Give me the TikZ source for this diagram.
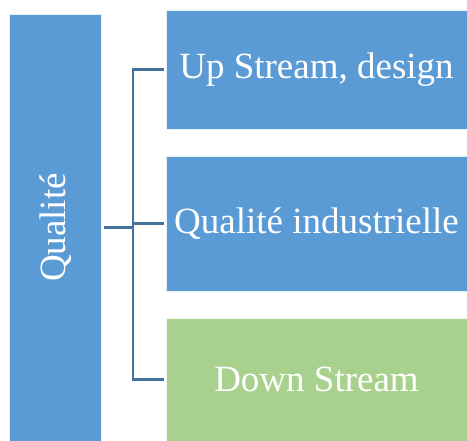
\documentclass[tikz,border=0pt]{standalone}
\usepackage{fontspec}
\setmainfont{Liberation Serif}
\definecolor{qblue}{HTML}{5B9BD5}
\definecolor{qgreen}{HTML}{A9D18E}
\definecolor{qline}{HTML}{41719C}
\tikzset{
  bloc/.style={draw=white!85!qblue,line width=0.6pt,fill=qblue,text=white,inner sep=0pt,
    font=\fontsize{37}{40}\selectfont},
  link/.style={draw=qline,line width=2.8pt}
}
\begin{document}
\begin{tikzpicture}[x=1pt,y=1pt]
  \useasboundingbox (0,0) rectangle (467,441);
  % left bar
  \node[bloc,minimum width=92pt,minimum height=427pt] (lq) at (55.5,213.5) {};
  \node[rotate=90,text=white,font=\fontsize{37}{40}\selectfont] (lqt) at (lq.center) {Qualité};
  % three boxes on the right
  \node[bloc,minimum width=301pt,minimum height=119pt] (b1) at (316.5,371.5) {Up Stream, design};
  \node[bloc,minimum width=301pt,minimum height=135pt] (b2) at (316.5,217.5) {Qualité industrielle};
  \node[bloc,fill=qgreen,draw=white!85!qgreen,minimum width=301pt,minimum height=123pt] (b3) at (316.5,61.5) {Down Stream};
  % connectors
  \coordinate (spine) at (133,0);
  \draw[link] ([xshift=2pt]lq.east) -- (spine |- lq.east);
  \draw[link] ([xshift=-2pt]b1.west) -| (b3.west -| spine) -- ([xshift=-2pt]b3.west);
  \draw[link] (spine |- b2.west) -- ([xshift=-2pt]b2.west);
\end{tikzpicture}
\end{document}
